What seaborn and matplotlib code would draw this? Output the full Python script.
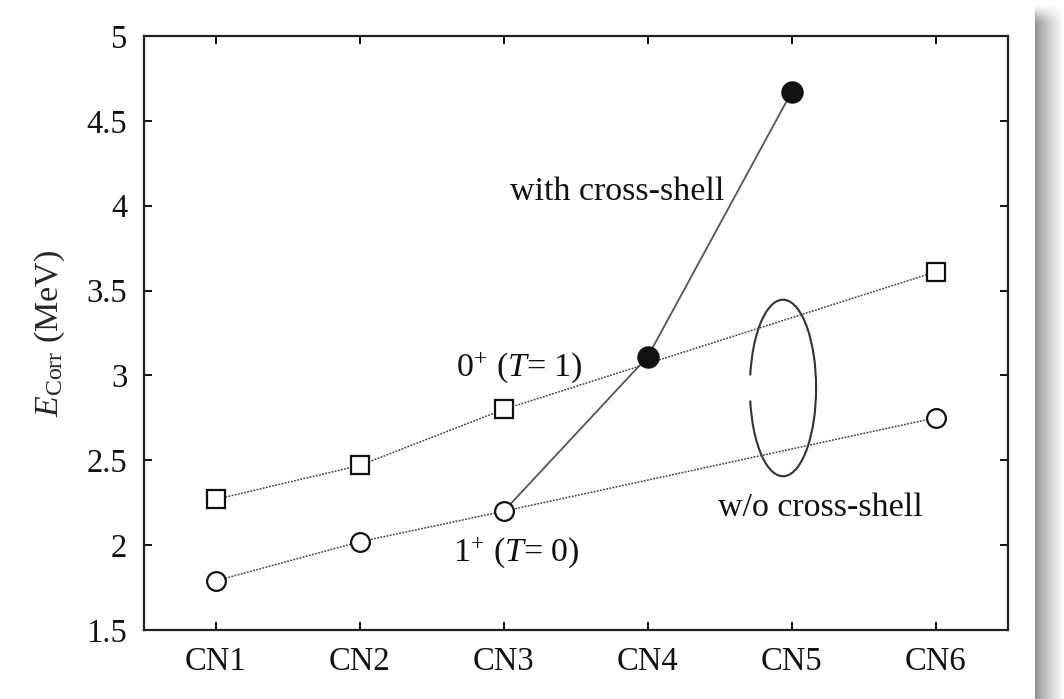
import numpy as np
import pandas as pd
import matplotlib
matplotlib.use("Agg")
import matplotlib.pyplot as plt
import seaborn as sns
from matplotlib.patches import Arc

# ---- data ----
categories = ["CN1", "CN2", "CN3", "CN4", "CN5", "CN6"]
t1_cats = ["CN1", "CN2", "CN3", "CN6"]
t1_vals = [2.27, 2.47, 2.80, 3.61]
t0_cats = ["CN1", "CN2", "CN3", "CN6"]
t0_vals = [1.79, 2.02, 2.20, 2.75]
cross_cats = ["CN3", "CN4", "CN5"]
cross_vals = [2.20, 3.11, 4.67]
y_ticks = [1.5, 2, 2.5, 3, 3.5, 4, 4.5, 5]

sns.set_theme(style="ticks")
plt.rcParams["font.family"] = ["Liberation Serif", "DejaVu Serif"]
plt.rcParams["mathtext.fontset"] = "custom"
plt.rcParams["mathtext.rm"] = "Liberation Serif"
plt.rcParams["mathtext.it"] = "Liberation Serif:italic"
plt.rcParams["mathtext.bf"] = "Liberation Serif:bold"

pos = {c: i + 1 for i, c in enumerate(categories)}

fig = plt.figure(figsize=(10.64, 6.99), dpi=100)
ax = fig.add_axes([144 / 1064, 1 - 630 / 699, (1007.5 - 144) / 1064, (630 - 36) / 699])

df_t1 = pd.DataFrame({"x": [pos[c] for c in t1_cats], "y": t1_vals})
df_t0 = pd.DataFrame({"x": [pos[c] for c in t0_cats], "y": t0_vals})
df_cr = pd.DataFrame({"x": [pos[c] for c in cross_cats], "y": cross_vals})

dot = (0, (1.2, 0.9))
# cross-shell solid line
sns.lineplot(data=df_cr, x="x", y="y", ax=ax, color="#555555", lw=1.3,
             sort=False, zorder=2)
# filled markers (skip first point which is the open circle)
sns.scatterplot(data=df_cr.iloc[1:], x="x", y="y", ax=ax, marker="o", s=230,
                color="#111111", edgecolor="#111111", linewidth=1.0, zorder=5)

sns.lineplot(data=df_t1, x="x", y="y", ax=ax, color="#444444", lw=1.1,
             linestyle=dot, marker="s", markersize=13, markerfacecolor="white",
             markeredgecolor="#111111", markeredgewidth=1.6, sort=False, zorder=4)
sns.lineplot(data=df_t0, x="x", y="y", ax=ax, color="#444444", lw=1.1,
             linestyle=dot, marker="o", markersize=13.5, markerfacecolor="white",
             markeredgecolor="#111111", markeredgewidth=1.6, sort=False, zorder=4)

# ellipse (open on the left)
arc = Arc((4.94, 2.926), 0.46, 1.04, theta1=-162, theta2=162,
          color="#333333", lw=1.5, zorder=3)
ax.add_patch(arc)

fs = 24.5
ax.text(3.79, 4.08, "with cross-shell", fontsize=fs, ha="center", va="center", color="#111111")
ax.text(3.11, 3.05, r"0$^{+}$ ($T$= 1)", fontsize=fs, ha="center", va="center", color="#111111")
ax.text(3.09, 1.96, r"1$^{+}$ ($T$= 0)", fontsize=fs, ha="center", va="center", color="#111111")
ax.text(5.20, 2.22, "w/o cross-shell", fontsize=fs, ha="center", va="center", color="#111111")

ax.set_xlim(0.5, 6.5)
ax.set_ylim(1.5, 5)
ax.set_xticks([pos[c] for c in categories])
ax.set_xticklabels(categories)
ax.set_yticks(y_ticks)
ax.set_yticklabels([f"{v:g}" for v in y_ticks])
ax.set_xlabel("")
ax.set_ylabel(r"$E_{\mathrm{Corr}}$ (MeV)", fontsize=fs, labelpad=14)
ax.tick_params(direction="in", length=6, width=1.4, top=True, right=True,
               labelsize=23.5, colors="#111111", pad=12)
for s in ax.spines.values():
    s.set_visible(True)
    s.set_linewidth(1.6)
    s.set_color("#222222")

# page shadow on the right
sax = fig.add_axes([1035 / 1064, 0, 29 / 1064, 1 - 4 / 699])
w, h = 60, 300
xx = np.linspace(0, 1, w)[None, :]
yy = np.linspace(0, 1, h)[:, None]
horiz = 0.55 + 0.45 * xx ** 0.8
fade = np.clip(yy / 0.025, 0, 1)  # top fade (row 0 = top)
img = 1 - (1 - horiz) * fade
sax.imshow(img, cmap="gray", vmin=0, vmax=1, aspect="auto", interpolation="bilinear")
sax.set_axis_off()

fig.savefig("out.png", dpi=100)
